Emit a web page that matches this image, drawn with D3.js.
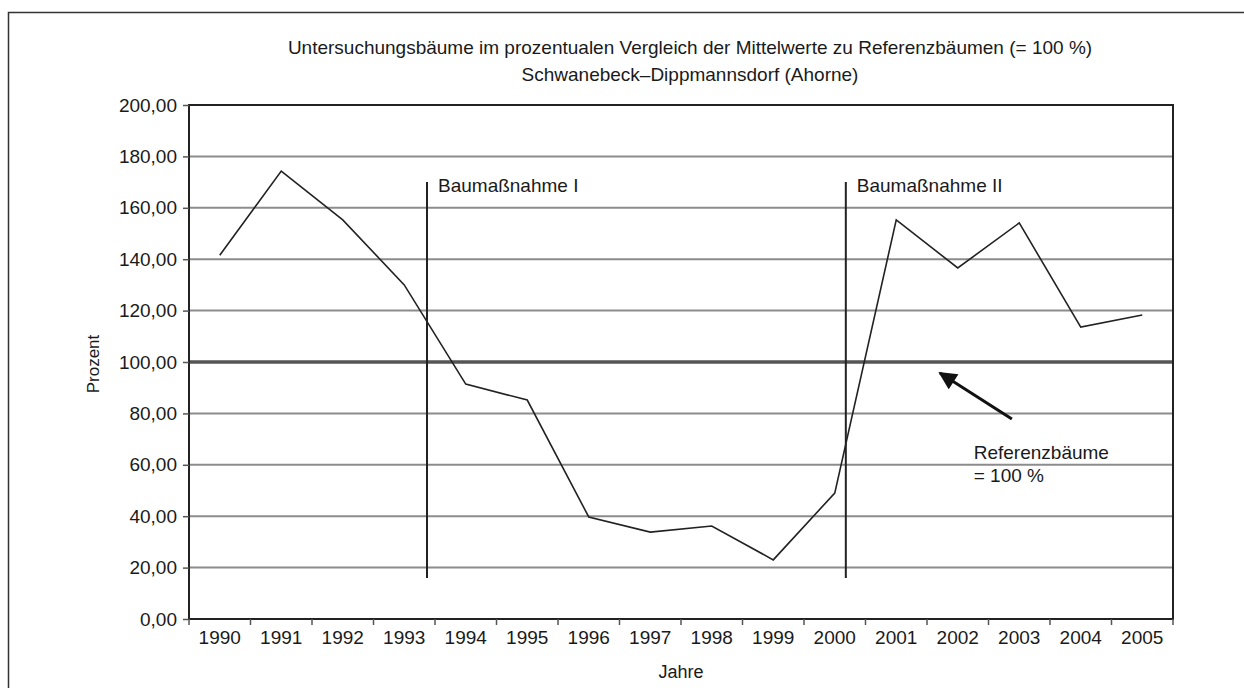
<!DOCTYPE html>
<html>
<head>
<meta charset="utf-8">
<script src="https://cdn.jsdelivr.net/npm/d3@7"></script>
<style>
  body { margin: 0; background: #fff; overflow: hidden; }
  text { font-family: "Liberation Sans", Arial, sans-serif; fill: #1a1a1a; }
</style>
</head>
<body>
<script>
var width = 1244,
    height = 688,
    margin = {top: 105, right: 71, bottom: 68, left: 189};

var years = ["1990","1991","1992","1993","1994","1995","1996","1997",
             "1998","1999","2000","2001","2002","2003","2004","2005"];
var prozent = [141.5, 174.3, 155.3, 130.0, 91.4, 85.2, 39.7, 33.8,
               36.2, 23.0, 49.0, 155.3, 136.6, 154.1, 113.6, 118.3];
var yTicks = [0, 20, 40, 60, 80, 100, 120, 140, 160, 180, 200];
// Baumassnahmen: position as fractional year index, vertical extent in percent
var massnahmen = [
  {label: "Baumaßnahme I", pos: 3.37, from: 16, to: 170},
  {label: "Baumaßnahme II", pos: 10.18, from: 16, to: 170}
];
var referenz = 100;

var x = d3.scaleBand()
    .domain(years)
    .range([margin.left, width - margin.right]);
var xPos = d3.scaleLinear()
    .domain([-0.5, years.length - 0.5])
    .range([margin.left, width - margin.right]);
var y = d3.scaleLinear()
    .domain([0, 200])
    .range([height - margin.bottom - 1, margin.top]);

var svg = d3.select("body").append("svg")
    .attr("width", width)
    .attr("height", height)
    .style("display", "block");

// outer frame
svg.append("rect")
    .attr("x", 8.5).attr("y", 12.5)
    .attr("width", 1300).attr("height", 800)
    .attr("fill", "none")
    .attr("stroke", "#333")
    .attr("stroke-width", 1.5);

// title
svg.append("text")
    .attr("x", 690).attr("y", 54)
    .attr("text-anchor", "middle")
    .style("font-size", "19px")
    .text("Untersuchungsbäume im prozentualen Vergleich der Mittelwerte zu Referenzbäumen (= 100 %)");
svg.append("text")
    .attr("x", 690).attr("y", 81)
    .attr("text-anchor", "middle")
    .style("font-size", "19px")
    .text("Schwanebeck–Dippmannsdorf (Ahorne)");

// grid lines
svg.selectAll("line.grid")
  .data(yTicks.filter(function(d) { return d > 0 && d < 200; }))
  .enter()
    .append("line")
    .attr("class", "grid")
    .attr("x1", margin.left)
    .attr("x2", width - margin.right)
    .attr("y1", function(d) { return y(d); })
    .attr("y2", function(d) { return y(d); })
    .attr("stroke", "#8c8c8c")
    .attr("stroke-width", 2);

// reference line 100 %
svg.append("line")
    .attr("x1", margin.left)
    .attr("x2", width - margin.right)
    .attr("y1", y(referenz))
    .attr("y2", y(referenz))
    .attr("stroke", "#555")
    .attr("stroke-width", 3.5);

// plot frame
svg.append("rect")
    .attr("x", margin.left)
    .attr("y", margin.top)
    .attr("width", width - margin.right - margin.left)
    .attr("height", y(0) - margin.top)
    .attr("fill", "none")
    .attr("stroke", "#222")
    .attr("stroke-width", 2);

// axes
var yAxis = d3.axisLeft(y)
    .tickValues(yTicks)
    .tickSize(6)
    .tickPadding(6)
    .tickFormat(function(d) { return d3.format(".2f")(d).replace(".", ","); });

var gy = svg.append("g")
    .attr("transform", "translate(" + margin.left + ",0)")
    .call(yAxis);
gy.select(".domain").remove();
gy.selectAll(".tick line").attr("stroke", "#555").attr("stroke-width", 1.5);
gy.selectAll("text").style("font-size", "19px").attr("fill", "#1a1a1a");

var xAxis = d3.axisBottom(x)
    .tickSize(0)
    .tickPadding(12);
var gx = svg.append("g")
    .attr("transform", "translate(0," + y(0) + ")")
    .call(xAxis);
gx.select(".domain").remove();
gx.selectAll("text").style("font-size", "19px").attr("fill", "#1a1a1a");

// x ticks at category boundaries
svg.selectAll("line.xtick")
  .data(d3.range(years.length + 1))
  .enter()
    .append("line")
    .attr("class", "xtick")
    .attr("x1", function(i) { return xPos(i - 0.5); })
    .attr("x2", function(i) { return xPos(i - 0.5); })
    .attr("y1", y(0))
    .attr("y2", y(0) + 6)
    .attr("stroke", "#555")
    .attr("stroke-width", 1.5);

// axis titles
svg.append("text")
    .attr("x", (margin.left + width - margin.right) / 2)
    .attr("y", 678)
    .attr("text-anchor", "middle")
    .style("font-size", "18px")
    .text("Jahre");
svg.append("text")
    .attr("transform", "translate(99,364) rotate(-90)")
    .attr("text-anchor", "middle")
    .style("font-size", "17px")
    .text("Prozent");

// Baumassnahmen
svg.selectAll("line.mass")
  .data(massnahmen)
  .enter()
    .append("line")
    .attr("class", "mass")
    .attr("x1", function(d) { return xPos(d.pos); })
    .attr("x2", function(d) { return xPos(d.pos); })
    .attr("y1", function(d) { return y(d.from); })
    .attr("y2", function(d) { return y(d.to); })
    .attr("stroke", "#222")
    .attr("stroke-width", 2);
svg.selectAll("text.mass")
  .data(massnahmen)
  .enter()
    .append("text")
    .attr("class", "mass")
    .attr("x", function(d) { return xPos(d.pos) + 11; })
    .attr("y", 192)
    .style("font-size", "19px")
    .text(function(d) { return d.label; });

// data line
var line = d3.line()
    .x(function(d, i) { return x(years[i]) + x.bandwidth() / 2; })
    .y(function(d) { return y(d); });

svg.append("path")
    .datum(prozent)
    .attr("d", line)
    .attr("fill", "none")
    .attr("stroke", "#222")
    .attr("stroke-width", 1.6);

// arrow to reference line
svg.append("defs").append("marker")
    .attr("id", "head")
    .attr("viewBox", "0 0 10 10")
    .attr("refX", 9).attr("refY", 5)
    .attr("markerWidth", 6.5).attr("markerHeight", 6)
    .attr("orient", "auto")
  .append("path")
    .attr("d", "M0,0 L10,5 L0,10 z")
    .attr("fill", "#111");

svg.append("line")
    .attr("x1", xPos(12.88)).attr("y1", y(77.8))
    .attr("x2", xPos(11.71)).attr("y2", y(95.7))
    .attr("stroke", "#111")
    .attr("stroke-width", 3)
    .attr("marker-end", "url(#head)");

svg.append("text")
    .attr("x", xPos(12.26)).attr("y", 459)
    .style("font-size", "19px")
    .text("Referenzbäume");
svg.append("text")
    .attr("x", xPos(12.26)).attr("y", 482)
    .style("font-size", "19px")
    .text("= 100 %");
</script>
</body>
</html>
